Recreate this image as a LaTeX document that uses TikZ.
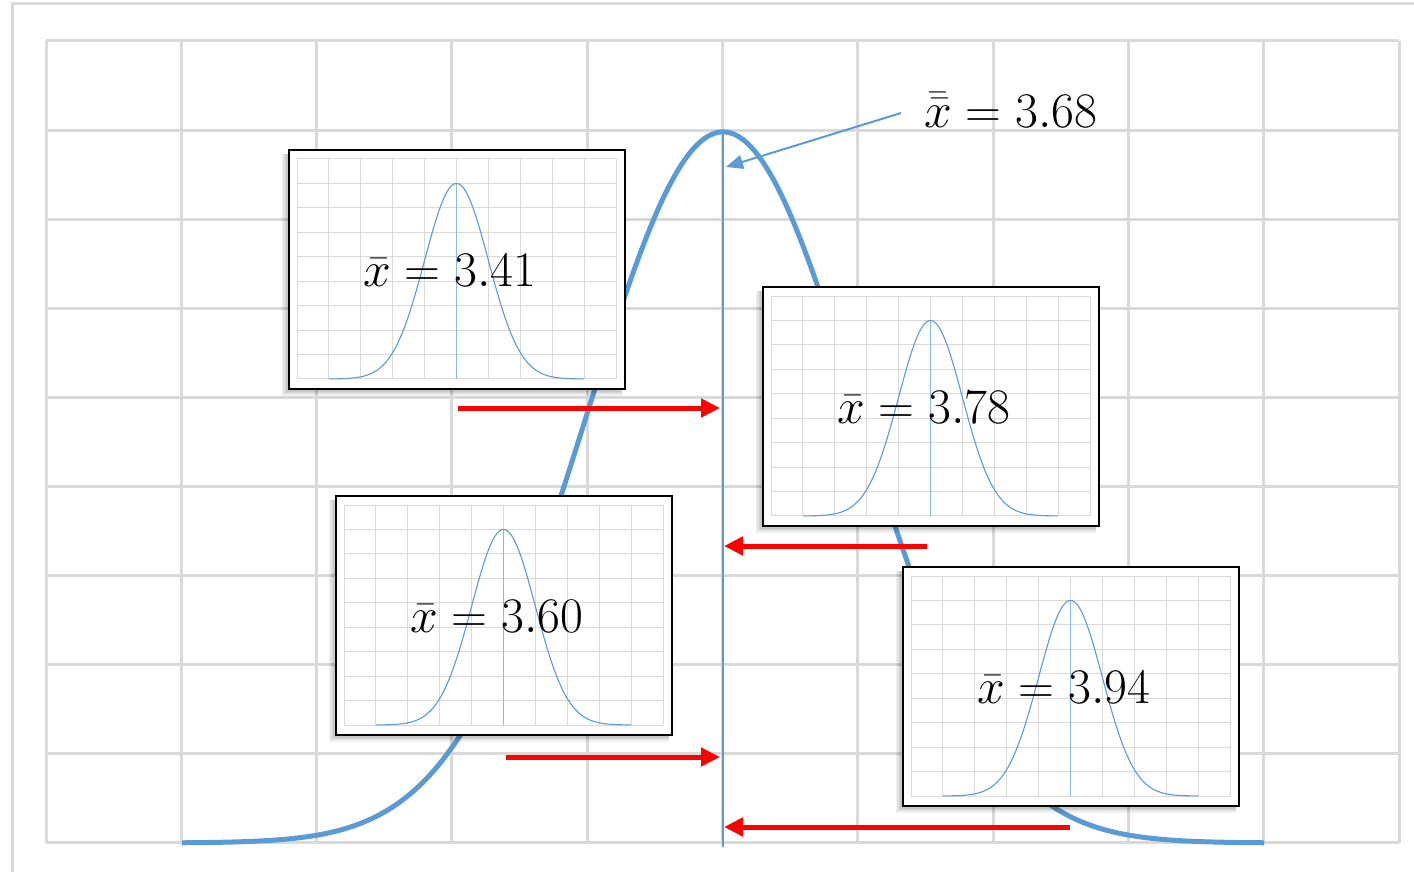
\documentclass[tikz,border=0pt]{standalone}
\usetikzlibrary{arrows.meta}
\definecolor{gridgray}{RGB}{217,217,217}
\definecolor{xlblue}{RGB}{91,155,213}
\definecolor{arrred}{RGB}{255,0,0}
\tikzset{
  maingrid/.style={gridgray, line width=1.5pt},
  insetgrid/.style={gridgray, line width=0.5pt},
  bigcurve/.style={xlblue, line width=2.5pt},
  smallcurve/.style={xlblue, line width=0.55pt},
  meanline/.style={xlblue, line width=0.9pt},
  insetmean/.style={xlblue!70, line width=0.4pt},
  redarrow/.style={arrred, line width=2.5pt, -{Triangle[length=9.5pt,width=9pt]}},
  bluearrow/.style={xlblue, line width=1pt, -{Triangle[length=8.5pt,width=7pt]}},
  softshadow/.style={black, opacity=0.06},
  insetbox/.style={draw=black, line width=0.75pt, fill=white, minimum width=168pt,
    minimum height=119.5pt, inner sep=0pt},
  mathlabel/.style={inner sep=0pt, font=\fontsize{24.88}{30}\selectfont},
}
\newcommand{\insetplot}[4]{%
  \begin{scope}[shift={(#2,#3)}]
    \foreach \k in {1,...,5} \fill[softshadow] ({-\k*1.4},4) rectangle (333,{239+\k*1.3});
    \node[insetbox] (#1) at (168,119.5) {};
    \foreach \i in {0,...,10} \draw[insetgrid] ({8+\i*31.9},9) -- ({8+\i*31.9},229);
    \foreach \j in {0,...,9} \draw[insetgrid] (8,{9+\j*24.444}) -- (327,{9+\j*24.444});
    \draw[insetmean] (167.5,33.4) -- (167.5,229);
    \draw[smallcurve] plot[domain=-4:4, samples=90, smooth] ({167.5+\x*31.9},{229-195.6*exp(-\x*\x/2)});
    \node[mathlabel, anchor=base] (#1l) at (161,136.5) {$\bar{x} = #4$};
  \end{scope}}
\begin{document}
\begin{tikzpicture}[x=0.5pt, y=-0.5pt]
  \useasboundingbox (0,0) rectangle (1414,872);
  % outer frame
  \coordinate (fa) at (12,873);
  \coordinate (fb) at (12,4);
  \coordinate (fc) at (1415,4);
  \draw[maingrid] (fa) -- (fb) -- (fc);
  % main grid
  \foreach \i in {0,...,10} \draw[maingrid] ({46+\i*135.3},41) -- ({46+\i*135.3},843);
  \foreach \j in {0,...,9} \draw[maingrid] (46,{41+\j*89.11}) -- (1399,{41+\j*89.11});
  % main curve
  \draw[bigcurve] plot[domain=-4:4, samples=120, smooth] ({723+\x*135.3},{843-711*exp(-\x*\x/2)});
  \coordinate (mtop) at (723,132);
  \coordinate (mbot) at (723,847);
  \draw[meanline] (mtop) -- (mbot);
  % red arrows
  \coordinate (r1s) at (458,408);  \coordinate (r1e) at (720,408);
  \coordinate (r2s) at (927,546);  \coordinate (r2e) at (724,546);
  \coordinate (r3s) at (506,757);  \coordinate (r3e) at (720,757);
  \coordinate (r4s) at (1070,827); \coordinate (r4e) at (724,827);
  \draw[redarrow] (r1s) -- (r1e);
  \draw[redarrow] (r2s) -- (r2e);
  \draw[redarrow] (r3s) -- (r3e);
  \draw[redarrow] (r4s) -- (r4e);
  % insets
  \insetplot{ia}{289}{150}{3.41}
  \insetplot{ib}{763}{287}{3.78}
  \insetplot{ic}{336}{496}{3.60}
  \insetplot{id}{903}{567}{3.94}
  % grand mean label
  \node[mathlabel, anchor=base] (gm) at (1011,127) {$\bar{\bar{x}} = 3.68$};
  \coordinate (gs) at (901,113);
  \coordinate (gp) at (726,167);
  \draw[bluearrow] (gs) -- (gp);
\end{tikzpicture}
\end{document}
